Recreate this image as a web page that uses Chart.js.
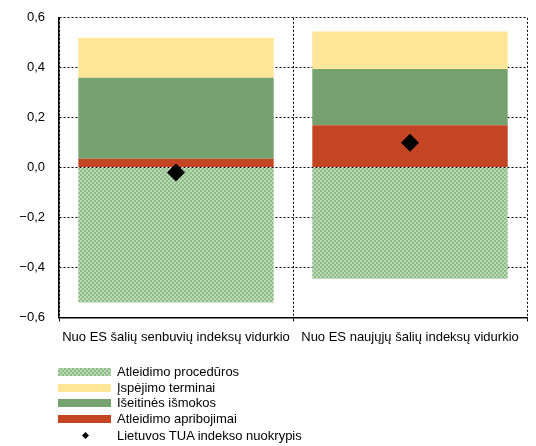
<!DOCTYPE html>
<html>
<head>
<meta charset="utf-8">
<script src="https://cdn.jsdelivr.net/npm/chart.js@4/dist/chart.umd.min.js"></script>
<style>
  body { margin: 0; background: #fff; font-family: "Liberation Sans", Arial, sans-serif; overflow: hidden; }
  #wrap { position: relative; width: 536px; height: 446px; overflow: hidden; }
  #chartBox { position: absolute; left: 0; top: -4px; width: 536px; height: 357px; }
  #legend { position: absolute; left: 0; top: 0; width: 536px; height: 446px; pointer-events: none; }
  .item { position: absolute; left: 58px; height: 16px; font-size: 13px; color: #000; }
  .swatch { position: absolute; left: 0; top: 4px; width: 53px; height: 8px; }
  .label { position: absolute; left: 59px; top: 0; line-height: 16px; white-space: nowrap; }
  .dia { position: absolute; left: 25px; top: 5px; width: 5px; height: 5px; background: #000; transform: rotate(45deg); }
</style>
</head>
<body>
<div id="wrap">
  <div id="chartBox"><canvas id="chart"></canvas></div>
  <div id="legend"></div>
</div>
<script>
var categories = ['Nuo ES šalių senbuvių indeksų vidurkio', 'Nuo ES naujųjų šalių indeksų vidurkio'];
var procedures = [-0.54, -0.445];     // Atleidimo procedūros
var restrictions = [0.035, 0.17];     // Atleidimo apribojimai
var severance = [0.325, 0.225];       // Išeitinės išmokos
var notice = [0.16, 0.15];            // Įspėjimo terminai
var lithuania = [-0.02, 0.10];        // Lietuvos TUA indekso nuokrypis
var yTicks = [-0.6, -0.4, -0.2, 0.0, 0.2, 0.4, 0.6];

// checker pattern for the procedures bar
var tile = document.createElement('canvas');
tile.width = 4; tile.height = 4;
var tctx = tile.getContext('2d');
tctx.fillStyle = '#8fbb89';
tctx.fillRect(0, 0, 4, 4);
tctx.fillStyle = '#bcd9b7';
tctx.fillRect(0, 0, 2, 2);
tctx.fillRect(2, 2, 2, 2);
var ctx = document.getElementById('chart').getContext('2d');
var pattern = ctx.createPattern(tile, 'repeat');

var chart = new Chart(ctx, {
  type: 'bar',
  data: {
    labels: categories,
    datasets: [
      { label: 'Atleidimo procedūros', data: procedures, backgroundColor: pattern, stack: 'a' },
      { label: 'Atleidimo apribojimai', data: restrictions, backgroundColor: '#c44524', stack: 'a' },
      { label: 'Išeitinės išmokos', data: severance, backgroundColor: '#76a26f', stack: 'a' },
      { label: 'Įspėjimo terminai', data: notice, backgroundColor: '#ffe699', stack: 'a' },
      {
        type: 'line', label: 'Lietuvos TUA indekso nuokrypis', data: lithuania, stack: 'm', order: -1,
        showLine: false, pointStyle: 'rectRot', pointRadius: 9, pointHoverRadius: 9,
        pointBackgroundColor: '#000', pointBorderColor: '#000', pointBorderWidth: 0,
        backgroundColor: '#000', borderColor: '#000'
      }
    ]
  },
  options: {
    responsive: true,
    maintainAspectRatio: false,
    animation: false,
    datasets: { bar: { barPercentage: 0.835, categoryPercentage: 1.0 } },
    layout: { padding: { left: 0, right: 5, top: 0, bottom: 0 } },
    plugins: { legend: { display: false }, tooltip: { enabled: false } },
    scales: {
      x: {
        stacked: true,
        grid: { offset: true, color: '#000', lineWidth: 1, drawTicks: true, tickLength: 4, tickColor: '#000', tickBorderDash: [] },
        border: { display: true, color: '#000', width: 1.5, dash: [2, 2] },
        ticks: { color: '#000', font: { family: 'Liberation Sans', size: 13 }, padding: 8, maxRotation: 0, autoSkip: false }
      },
      y: {
        stacked: true,
        min: -0.6, max: 0.6,
        afterFit: function (s) { s.width = 59; },
        afterBuildTicks: function (s) { s.ticks = yTicks.map(function (v) { return { value: v }; }); },
        grid: { color: '#000', lineWidth: 1, drawTicks: false },
        border: { display: true, color: '#000', width: 1.5, dash: [2, 2] },
        ticks: {
          color: '#000', font: { family: 'Liberation Sans', size: 13 }, padding: 14,
          callback: function (v) {
            var s = Math.abs(v).toFixed(1).replace('.', ',');
            return v < -0.001 ? '\u2212' + s : s;
          }
        }
      }
    }
  }
});

// legend in the original order
var legendItems = [
  { text: 'Atleidimo procedūros', fill: 'pattern' },
  { text: 'Įspėjimo terminai', fill: '#ffe699' },
  { text: 'Išeitinės išmokos', fill: '#76a26f' },
  { text: 'Atleidimo apribojimai', fill: '#c44524' },
  { text: 'Lietuvos TUA indekso nuokrypis', fill: 'marker' }
];
var rowTops = [364, 380, 395, 411, 428];
var legend = document.getElementById('legend');
legendItems.forEach(function (it, i) {
  var row = document.createElement('div');
  row.className = 'item';
  row.style.top = rowTops[i] + 'px';
  if (it.fill === 'marker') {
    var d = document.createElement('div');
    d.className = 'dia';
    row.appendChild(d);
  } else {
    var sw = document.createElement('div');
    sw.className = 'swatch';
    if (it.fill === 'pattern') sw.style.backgroundImage = 'url(' + tile.toDataURL() + ')';
    else sw.style.background = it.fill;
    row.appendChild(sw);
  }
  var lb = document.createElement('div');
  lb.className = 'label';
  lb.textContent = it.text;
  row.appendChild(lb);
  legend.appendChild(row);
});
</script>
</body>
</html>
